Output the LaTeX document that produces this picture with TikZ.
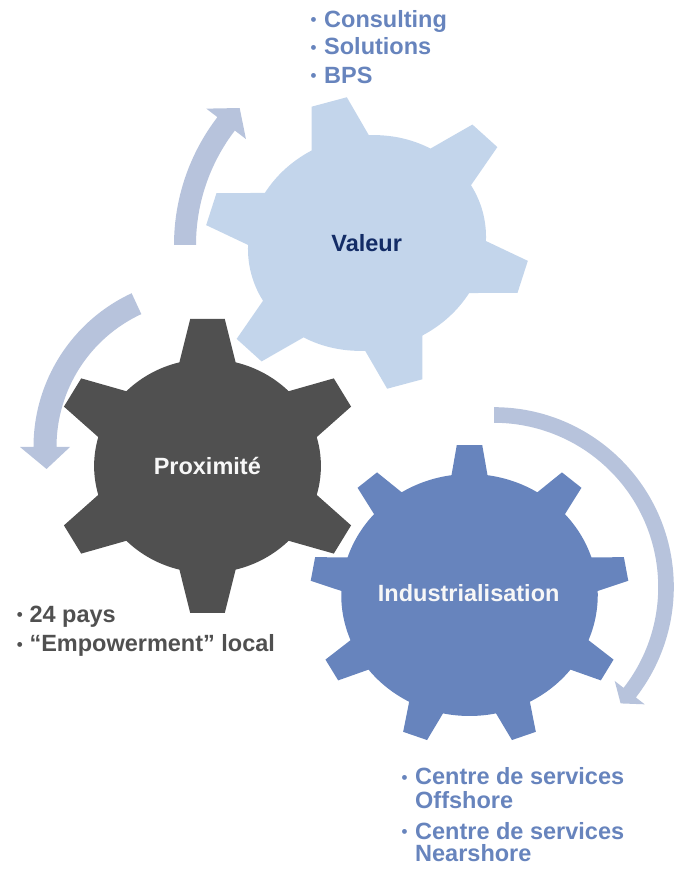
\documentclass[tikz,border=0pt]{standalone}
\usepackage{fontspec}
\usepackage{graphicx}
\setmainfont{Liberation Sans}
\definecolor{gearlight}{HTML}{C3D5EB}
\definecolor{geardark}{HTML}{505050}
\definecolor{gearblue}{HTML}{6784BD}
\definecolor{arrowcol}{HTML}{B7C3DC}
\definecolor{navytxt}{HTML}{132C66}
\definecolor{bluetxt}{HTML}{6784BD}
\definecolor{graytxt}{HTML}{505050}
\definecolor{whitetxt}{HTML}{F7F7F7}

\newcommand{\bul}[1]{\makebox[#1][l]{\raisebox{1.6pt}{\scalebox{0.72}{•}}}}

% gear: #1 fill colour, #2 teeth, #3 body radius, #4 tip radius, #5 tip half width, #6 base half width
\newcommand{\gearfill}[6]{%
  \pgfmathsetmacro{\gstep}{360/#2}%
  \pgfmathsetmacro{\gbeta}{asin(#6/#3)}%
  \pgfmathsetmacro{\gdelta}{atan(#5/#4)}%
  \pgfmathsetmacro{\grho}{veclen(#4,#5)}%
  \pgfmathsetmacro{\gstart}{90-\gbeta}%
  \fill[#1] (\gstart:#3) \foreach \k in {1,...,#2} {
      -- ({90+(\k-1)*\gstep-\gdelta}:\grho) -- ({90+(\k-1)*\gstep+\gdelta}:\grho)
      -- ({90+(\k-1)*\gstep+\gbeta}:#3)
      arc[start angle={90+(\k-1)*\gstep+\gbeta}, end angle={90+\k*\gstep-\gbeta}, radius=#3]
  } -- cycle;}

% circular arrow: #1 mid radius, #2 shaft half width, #3 tail angle, #4 head angle, #5 apex angle, #6 head half width
\newcommand{\circarrow}[6]{%
  \pgfmathsetmacro{\aro}{#1+#2}%
  \pgfmathsetmacro{\ari}{#1-#2}%
  \pgfmathsetmacro{\abo}{#1+#6}%
  \pgfmathsetmacro{\abi}{#1-#6}%
  \fill[arrowcol] (#3:\aro) arc[start angle=#3, end angle=#4, radius=\aro]
    -- (#4:\abo) -- (#5:#1) -- (#4:\abi) -- (#4:\ari)
    arc[start angle=#4, end angle=#3, radius=\ari] -- cycle;}

\begin{document}
\begin{tikzpicture}[x=1pt,y=1pt,
  lbl/.style={font=\bfseries\fontsize{23.5}{28}\selectfont, inner sep=0pt, anchor=base},
  item/.style={font=\bfseries\fontsize{23.5}{28}\selectfont, inner sep=0pt, anchor=base west}]
\useasboundingbox (0,0) rectangle (691,869);

% arrows
\begin{scope}[shift={(384,624)}]
  \circarrow{199}{11}{180}{142.5}{136.5}{25}
\end{scope}
\begin{scope}[shift={(203,422)}]
  \circarrow{158}{11.5}{114.9}{180}{188}{25}
\end{scope}
\begin{scope}[shift={(494,282)}]
  \circarrow{172}{7.8}{90}{-37.9}{-42.6}{19}
\end{scope}

% gears
\begin{scope}[shift={(367,626)}, rotate=15, xscale=1.12]
  \gearfill{gearlight}{6}{107}{146}{16.3}{26.5}
\end{scope}
\begin{scope}[shift={(207.5,403)}, xscale=1.06]
  \gearfill{geardark}{6}{107}{147}{16.3}{26.5}
\end{scope}
\begin{scope}[shift={(469.5,274)}, xscale=1.06]
  \gearfill{gearblue}{9}{121}{150}{12}{17}
\end{scope}

% gear labels
\node[lbl, text=navytxt] (valeur) at (366.7,617.3) {Valeur};
\node[lbl, text=whitetxt] (proximite) at (207.3,394.7) {Proximité};
\node[lbl, text=whitetxt] (indus) at (468.7,267.3) {Industrialisation};

% top list
\node[item, text=bluetxt] (consulting) at (310.5,841.7) {\bul{13.5pt}Consulting};
\node[item, text=bluetxt] (solutions) at (310.5,814) {\bul{13.5pt}Solutions};
\node[item, text=bluetxt] (bps) at (310.5,785.7) {\bul{13.5pt}BPS};

% bottom-left list
\node[item, text=graytxt] (pays) at (16.7,246.7) {\bul{12.6pt}24 pays};
\node[item, text=graytxt] (empower) at (16.7,217.3) {\bul{12.6pt}“Empowerment” local};

% bottom-right list
\node[item, text=bluetxt] (centre1) at (401.4,84) {\bul{13.6pt}Centre de services};
\node[item, text=bluetxt] (offshore) at (415,60.7) {Offshore};
\node[item, text=bluetxt] (centre2) at (401.4,29.7) {\bul{13.6pt}Centre de services};
\node[item, text=bluetxt] (nearshore) at (415,7.3) {Nearshore};
\end{tikzpicture}
\end{document}
